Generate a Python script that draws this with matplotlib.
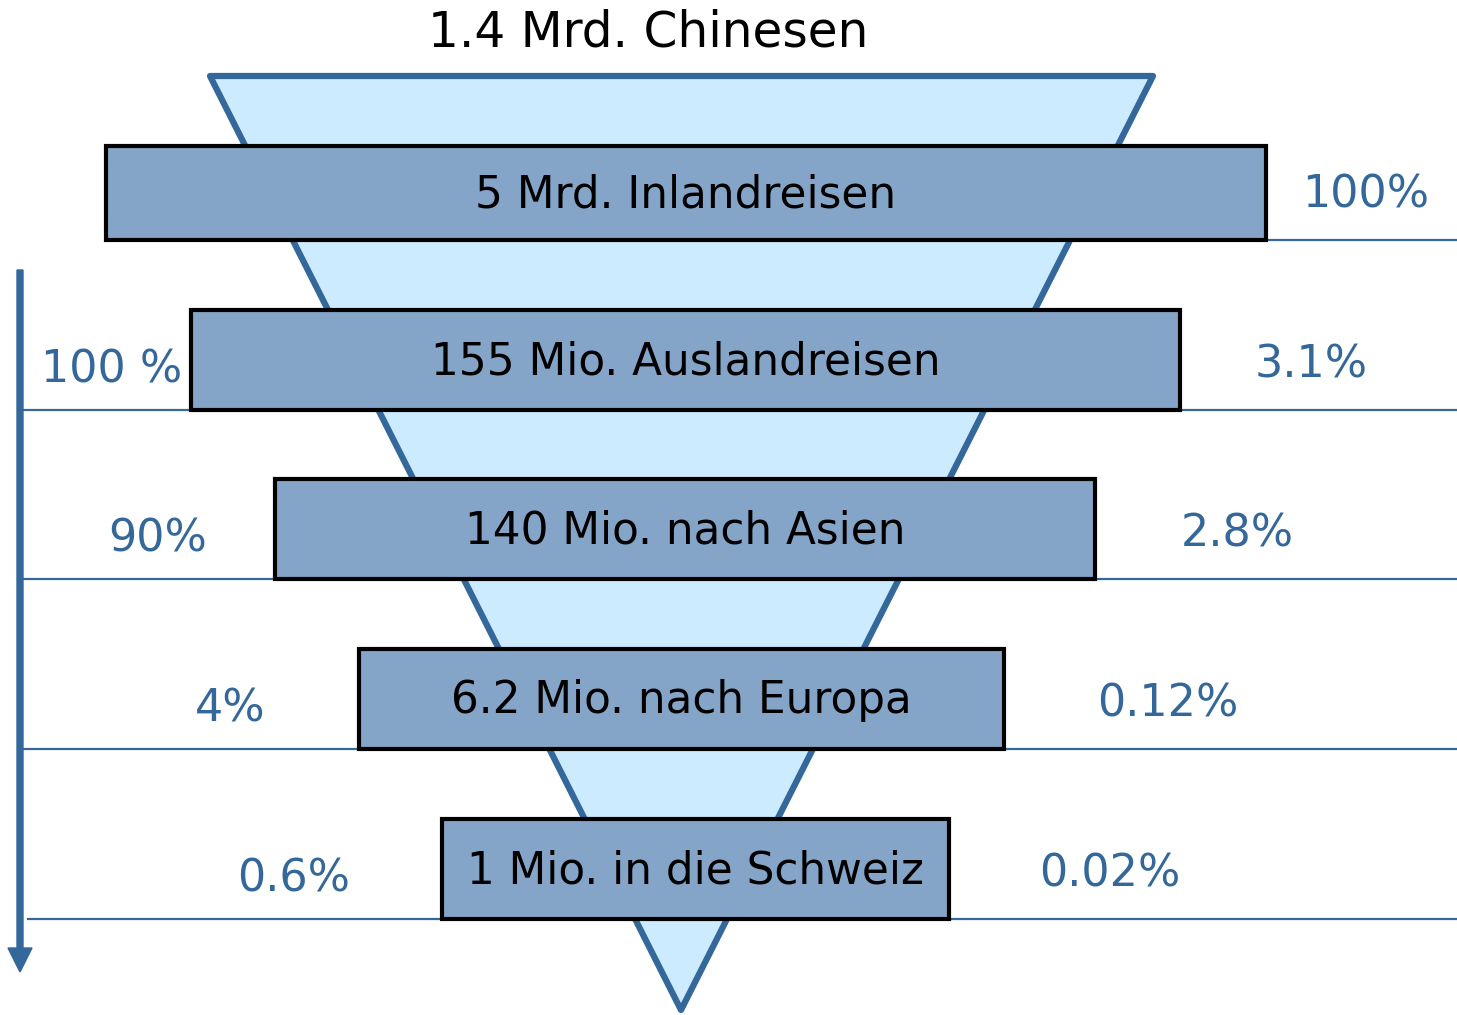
import numpy as np
import matplotlib
matplotlib.use('Agg')
import matplotlib.pyplot as plt
from matplotlib.patches import Polygon, Rectangle, FancyArrow

# ─────────────────────────────────────────────
# DONNÉES
# ─────────────────────────────────────────────
titre = "1.4 Mrd. Chinesen"
etapes = ["5 Mrd. Inlandreisen", "155 Mio. Auslandreisen", "140 Mio. nach Asien",
          "6.2 Mio. nach Europa", "1 Mio. in die Schweiz"]
pct_gauche = ["", "100 %", "90%", "4%", "0.6%"]
pct_droite = ["100%", "3.1%", "2.8%", "0.12%", "0.02%"]

# ─────────────────────────────────────────────
# MISE EN PAGE (pixels)
# ─────────────────────────────────────────────
W, H = 1457, 1015
BLEU = '#34679A'
bords_g = [106, 191, 275, 359, 442]
bords_d = [1266, 1180, 1095, 1004, 949]
haut_boite = [94, 100, 100, 100, 100]
bas_boite = [240, 410, 579, 749, 919]
x_gauche_lbl = [0, 112, 158, 230, 294]
x_droite_lbl = [1366, 1311, 1237, 1168, 1110]
fin_gauche = [0, 205, 290, 372, 455]

fig = plt.figure(figsize=(W / 100, H / 100), dpi=100)
ax = fig.add_axes([0, 0, 1, 1])
ax.set_xlim(0, W)
ax.set_ylim(H, 0)
ax.axis('off')

# Entonnoir (triangle inversé)
tri = Polygon([[210, 76], [1153, 76], [681, 1010]], closed=True,
              facecolor='#CCEBFF', edgecolor=BLEU, lw=4.5, joinstyle='round', zorder=1)
ax.add_patch(tri)

ax.text(648, 32, titre, fontsize=35, ha='center', va='center', color='black')

for i, lab in enumerate(etapes):
    x0, x1 = bords_g[i], bords_d[i]
    y1 = bas_boite[i]
    y0 = y1 - haut_boite[i]

    # lignes horizontales
    ax.plot([x1 - 36, W], [y1, y1], color=BLEU, lw=1.6, zorder=2)
    if i > 0:
        ax.plot([22 if i < 4 else 28, fin_gauche[i]], [y1, y1], color=BLEU, lw=1.6, zorder=2)

    ax.add_patch(Rectangle((x0, y0), x1 - x0, haut_boite[i], facecolor='#84A5C8',
                           edgecolor='black', lw=3, zorder=3))
    ax.text((x0 + x1) / 2, (y0 + y1) / 2 + 2, lab, fontsize=31.5, ha='center', va='center',
            color='black', zorder=4)

    ax.text(x_droite_lbl[i], y1 - 45, pct_droite[i], fontsize=32, ha='center',
            va='center', color=BLEU)
    if pct_gauche[i]:
        ax.text(x_gauche_lbl[i], y1 - 40, pct_gauche[i], fontsize=32, ha='center',
                va='center', color=BLEU)

# Flèche verticale
ax.add_patch(FancyArrow(20, 270, 0, 702, width=6, head_width=24, head_length=24,
                        length_includes_head=True, color=BLEU, zorder=2))

plt.savefig('out.png', dpi=100)
